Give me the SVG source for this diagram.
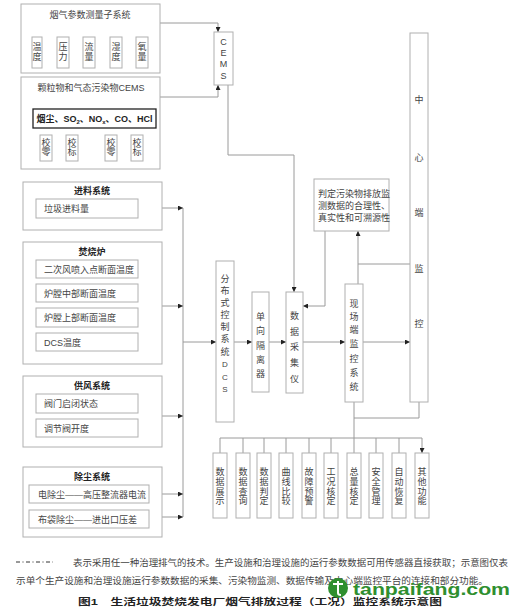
<svg xmlns="http://www.w3.org/2000/svg" width="530" height="609" viewBox="0 0 530 609">
<style>
.box{fill:#fff;stroke:#b0b0b0;stroke-width:1}
.ln{fill:none;stroke:#9a9a9a;stroke-width:1}
.ar{fill:none;stroke:#9a9a9a;stroke-width:1;marker-end:url(#ah)}
.t{font-family:"Liberation Sans","Noto Sans CJK SC",sans-serif;fill:#444;font-size:9px}
.c{text-anchor:middle}
.b{font-weight:bold;fill:#222}
</style>
<defs>
<marker id="ah" markerWidth="5" markerHeight="5" refX="5" refY="2.5" orient="auto" markerUnits="userSpaceOnUse">
<path d="M0,0 L5,2.5 L0,5 z" fill="#222"/>
</marker>
</defs>
<rect width="530" height="609" fill="#fff"/>

<g id="connectors">
<path class="ln" d="M37,37 V30 H142 V37 M63,30 V37 M116,30 V37 M89,37 V23"/>
<path class="ar" d="M89,23 H218 V32"/>
<path class="ln" d="M60,109 V103 H126 V109 M93,103 V97"/>
<path class="ar" d="M93,97 H218 V85"/>
<path class="ln" d="M46,128 V135 M72,128 V135 M111,128 V135 M137,128 V135"/>
<path class="ar" d="M228,85 V155 H294 V292"/>
<path class="ln" d="M183,208 V517"/>
<path class="ar" d="M138,208 H183"/>
<path class="ln" d="M138,269 H153 M138,293 H153 M138,318 H153 M138,342 H153 M153,269 V342"/>
<path class="ar" d="M153,306 H183"/>
<path class="ln" d="M138,403 H152 M138,428 H152 M152,403 V428"/>
<path class="ar" d="M152,416 H183"/>
<path class="ar" d="M149,494 H183"/>
<path class="ar" d="M149,517 H183"/>
<path class="ar" d="M183,342 H216"/>
<path class="ar" d="M234,342 H252"/>
<path class="ar" d="M269,342 H286"/>
<path class="ar" d="M303,342 H345"/>
<path class="ar" d="M325,231 V306 H303"/>
<path class="ar" d="M358,284 V231"/>
<path class="ln" d="M358,264 H410"/>
<path class="ar" d="M363,342 H410"/>
<path class="ln" d="M354,402 V438 M354,418 H419 V402"/>
<path class="ln" d="M220,438 H422"/>
<path class="ar" d="M220,438 V453 M243,438 V453 M264,438 V453 M286,438 V453 M309,438 V453 M331,438 V453 M354,438 V453 M376,438 V453 M399,438 V453 M422,438 V453"/>
</g>

<g id="flue-gas-params">
<rect class="box" x="21" y="4" width="139" height="69"/>
<text class="t c" x="90" y="18" font-size="9.5">烟气参数测量子系统</text>
</g>
<g id="temp"><rect class="box" x="32" y="37" width="10" height="31"/><text class="t c" x="37" y="50" font-size="8.5">温</text><text class="t c" x="37" y="60" font-size="8.5">度</text></g>
<g id="pressure"><rect class="box" x="57" y="37" width="12" height="31"/><text class="t c" x="63" y="50" font-size="8.5">压</text><text class="t c" x="63" y="60" font-size="8.5">力</text></g>
<g id="flow"><rect class="box" x="83" y="37" width="12" height="31"/><text class="t c" x="89" y="50" font-size="8.5">流</text><text class="t c" x="89" y="60" font-size="8.5">量</text></g>
<g id="humidity"><rect class="box" x="110" y="37" width="12" height="31"/><text class="t c" x="116" y="50" font-size="8.5">湿</text><text class="t c" x="116" y="60" font-size="8.5">度</text></g>
<g id="oxygen"><rect class="box" x="136" y="37" width="12" height="31"/><text class="t c" x="142" y="50" font-size="8.5">氧</text><text class="t c" x="142" y="60" font-size="8.5">量</text></g>

<g id="pollutant-cems">
<rect class="box" x="21" y="77" width="139" height="92"/>
<text class="t c" x="91" y="91" font-size="9">颗粒物和气态污染物CEMS</text>
</g>
<g id="pollutants">
<rect x="33" y="109" width="123" height="19" fill="#fff" stroke="#222" stroke-width="1.3"/>
<text class="t c b" x="94.5" y="122" font-size="9.5">烟尘、SO<tspan font-size="6" dy="2">2</tspan><tspan dy="-2">、NO</tspan><tspan font-size="6" dy="2">x</tspan><tspan dy="-2">、CO、HCl</tspan></text>
</g>
<g id="zero1"><rect class="box" x="40" y="135" width="12" height="26"/><text class="t c" x="46" y="146" font-size="8.5">校</text><text class="t c" x="46" y="155" font-size="8.5">零</text></g>
<g id="span1"><rect class="box" x="66" y="135" width="12" height="26"/><text class="t c" x="72" y="146" font-size="8.5">校</text><text class="t c" x="72" y="155" font-size="8.5">标</text></g>
<g id="zero2"><rect class="box" x="105" y="135" width="12" height="26"/><text class="t c" x="111" y="146" font-size="8.5">校</text><text class="t c" x="111" y="155" font-size="8.5">零</text></g>
<g id="span2"><rect class="box" x="131" y="135" width="12" height="26"/><text class="t c" x="137" y="146" font-size="8.5">校</text><text class="t c" x="137" y="155" font-size="8.5">标</text></g>

<g id="cems">
<rect class="box" x="214" y="32" width="19" height="53"/>
<text class="t c" x="223.5" font-size="8"><tspan x="223.5" y="45">C</tspan><tspan x="223.5" y="56">E</tspan><tspan x="223.5" y="67">M</tspan><tspan x="223.5" y="79">S</tspan></text>
</g>

<g id="feed-system">
<rect class="box" x="23" y="182" width="139" height="48"/>
<text class="t c b" x="92" y="194" font-size="10">进料系统</text>
<rect class="box" x="36" y="199" width="102" height="19"/>
<text class="t" x="44" y="211.5" font-size="8.8">垃圾进料量</text>
</g>

<g id="incinerator">
<rect class="box" x="23" y="242" width="139" height="122"/>
<text class="t c b" x="92" y="255" font-size="10">焚烧炉</text>
<rect class="box" x="36" y="260" width="102" height="18"/>
<text class="t" x="44" y="272.5" font-size="8.8">二次风喷入点断面温度</text>
<rect class="box" x="36" y="284" width="102" height="18"/>
<text class="t" x="44" y="296.5" font-size="8.8">炉膛中部断面温度</text>
<rect class="box" x="36" y="308" width="102" height="19"/>
<text class="t" x="44" y="321" font-size="8.8">炉膛上部断面温度</text>
<rect class="box" x="36" y="333" width="102" height="18"/>
<text class="t" x="44" y="345.5" font-size="8.8">DCS温度</text>
</g>

<g id="air-supply">
<rect class="box" x="23" y="376" width="139" height="71"/>
<text class="t c b" x="92" y="389" font-size="10">供风系统</text>
<rect class="box" x="36" y="394" width="102" height="19"/>
<text class="t" x="44" y="406.5" font-size="8.8">阀门启闭状态</text>
<rect class="box" x="36" y="419" width="102" height="18"/>
<text class="t" x="44" y="431.5" font-size="8.8">调节阀开度</text>
</g>

<g id="dust-removal">
<rect class="box" x="23" y="467" width="139" height="70"/>
<text class="t c b" x="92" y="480" font-size="10">除尘系统</text>
<rect class="box" x="29" y="485" width="120" height="18"/>
<text class="t" x="38" y="497.5" font-size="8.8">电除尘——高压整流器电流</text>
<rect class="box" x="29" y="510" width="120" height="18"/>
<text class="t" x="38" y="522.5" font-size="8.8">布袋除尘——进出口压差</text>
</g>

<g id="dcs">
<rect class="box" x="216" y="261" width="18" height="161"/>
<text class="t c" font-size="10"><tspan x="225" y="281.5">分</tspan><tspan x="225" y="293.5">布</tspan><tspan x="225" y="306">式</tspan><tspan x="225" y="318">控</tspan><tspan x="225" y="330">制</tspan><tspan x="225" y="342">系</tspan><tspan x="225" y="355">统</tspan><tspan x="225" y="367" font-size="8">D</tspan><tspan x="225" y="380" font-size="8">C</tspan><tspan x="225" y="392" font-size="8">S</tspan></text>
</g>

<g id="isolator">
<rect class="box" x="252" y="292" width="17" height="100"/>
<text class="t c" font-size="13" fill="#333"><tspan x="260.5" y="320">单</tspan><tspan x="260.5" y="334">向</tspan><tspan x="260.5" y="349">隔</tspan><tspan x="260.5" y="363">离</tspan><tspan x="260.5" y="377">器</tspan></text>
</g>

<g id="collector">
<rect class="box" x="286" y="292" width="17" height="101"/>
<text class="t c" font-size="14" fill="#555"><tspan x="294.5" y="319">数</tspan><tspan x="294.5" y="334.5">据</tspan><tspan x="294.5" y="350">采</tspan><tspan x="294.5" y="366">集</tspan><tspan x="294.5" y="382">仪</tspan></text>
</g>

<g id="judge">
<rect class="box" x="314" y="179" width="75" height="52"/>
<text class="t" x="318" font-size="7.6"><tspan x="318" y="197">判定污染物排放监</tspan><tspan x="318" y="208.5">测数据的合理性、</tspan><tspan x="318" y="221">真实性和可溯源性</tspan></text>
</g>

<g id="site-monitor">
<rect class="box" x="345" y="284" width="18" height="118"/>
<text class="t c" font-size="11"><tspan x="354" y="307">现</tspan><tspan x="354" y="320">场</tspan><tspan x="354" y="333">端</tspan><tspan x="354" y="347">监</tspan><tspan x="354" y="362">控</tspan><tspan x="354" y="376">系</tspan><tspan x="354" y="390">统</tspan></text>
</g>

<g id="center-monitor">
<rect class="box" x="410" y="33" width="18" height="369"/>
<text class="t c" font-size="10"><tspan x="419" y="102.5">中</tspan><tspan x="419" y="160.5">心</tspan><tspan x="419" y="215.5">端</tspan><tspan x="419" y="271.5">监</tspan><tspan x="419" y="326.5">控</tspan></text>
</g>

<g id="f1"><rect class="box" x="213" y="453" width="14" height="65"/><text class="t c" font-size="8.5"><tspan x="220" y="475">数</tspan><tspan x="220" y="485">据</tspan><tspan x="220" y="494.5">展</tspan><tspan x="220" y="504">示</tspan></text></g>
<g id="f2"><rect class="box" x="236" y="453" width="14" height="65"/><text class="t c" font-size="8.5"><tspan x="243" y="475">数</tspan><tspan x="243" y="485">据</tspan><tspan x="243" y="494.5">查</tspan><tspan x="243" y="504">询</tspan></text></g>
<g id="f3"><rect class="box" x="257" y="453" width="14" height="65"/><text class="t c" font-size="8.5"><tspan x="264" y="475">数</tspan><tspan x="264" y="485">据</tspan><tspan x="264" y="494.5">判</tspan><tspan x="264" y="504">定</tspan></text></g>
<g id="f4"><rect class="box" x="279" y="453" width="14" height="65"/><text class="t c" font-size="8.5"><tspan x="286" y="475">曲</tspan><tspan x="286" y="485">线</tspan><tspan x="286" y="494.5">比</tspan><tspan x="286" y="504">较</tspan></text></g>
<g id="f5"><rect class="box" x="302" y="453" width="14" height="65"/><text class="t c" font-size="8.5"><tspan x="309" y="475">故</tspan><tspan x="309" y="485">障</tspan><tspan x="309" y="494.5">预</tspan><tspan x="309" y="504">警</tspan></text></g>
<g id="f6"><rect class="box" x="324" y="453" width="14" height="65"/><text class="t c" font-size="8.5"><tspan x="331" y="475">工</tspan><tspan x="331" y="485">况</tspan><tspan x="331" y="494.5">核</tspan><tspan x="331" y="504">定</tspan></text></g>
<g id="f7"><rect class="box" x="347" y="453" width="14" height="65"/><text class="t c" font-size="8.5"><tspan x="354" y="475">总</tspan><tspan x="354" y="485">量</tspan><tspan x="354" y="494.5">核</tspan><tspan x="354" y="504">定</tspan></text></g>
<g id="f8"><rect class="box" x="369" y="453" width="14" height="65"/><text class="t c" font-size="8.5"><tspan x="376" y="475">安</tspan><tspan x="376" y="485">全</tspan><tspan x="376" y="494.5">管</tspan><tspan x="376" y="504">理</tspan></text></g>
<g id="f9"><rect class="box" x="392" y="453" width="14" height="65"/><text class="t c" font-size="8.5"><tspan x="399" y="475">自</tspan><tspan x="399" y="485">动</tspan><tspan x="399" y="494.5">恢</tspan><tspan x="399" y="504">复</tspan></text></g>
<g id="f10"><rect class="box" x="415" y="453" width="14" height="65"/><text class="t c" font-size="8.5"><tspan x="422" y="475">其</tspan><tspan x="422" y="485">他</tspan><tspan x="422" y="494.5">功</tspan><tspan x="422" y="504">能</tspan></text></g>

<g id="caption">
<line x1="16" y1="562" x2="53" y2="562" stroke="#333" stroke-width="1" stroke-dasharray="4 2.5 1 2.5"/>
<text class="t" x="73" y="565.5" font-size="9.4" fill="#333" textLength="435" lengthAdjust="spacingAndGlyphs">表示采用任一种治理排气的技术。生产设施和治理设施的运行参数数据可用传感器直接获取；示意图仅表</text>
<text class="t" x="16" y="583.5" font-size="9.4" fill="#333" textLength="472" lengthAdjust="spacingAndGlyphs">示单个生产设施和治理设施运行参数数据的采集、污染物监测、数据传输及中心端监控平台的连接和部分功能。</text>
<text class="t b" x="78" y="605" font-size="12" fill="#111" textLength="364" lengthAdjust="spacingAndGlyphs">图1　生活垃圾焚烧发电厂烟气排放过程（工况）监控系统示意图</text>
</g>

<g id="watermark">
<circle cx="338" cy="588" r="10" fill="#2f8f2f"/>
<path d="M333,584 h10 M338,581 v12 q0,2 3,2" fill="none" stroke="#fff" stroke-width="2"/>
<text x="353" y="595" font-family="Liberation Sans, sans-serif" font-weight="bold" font-size="17" fill="#2f8f2f" textLength="157" lengthAdjust="spacingAndGlyphs">tanpaifang.com</text>
</g>
</svg>
